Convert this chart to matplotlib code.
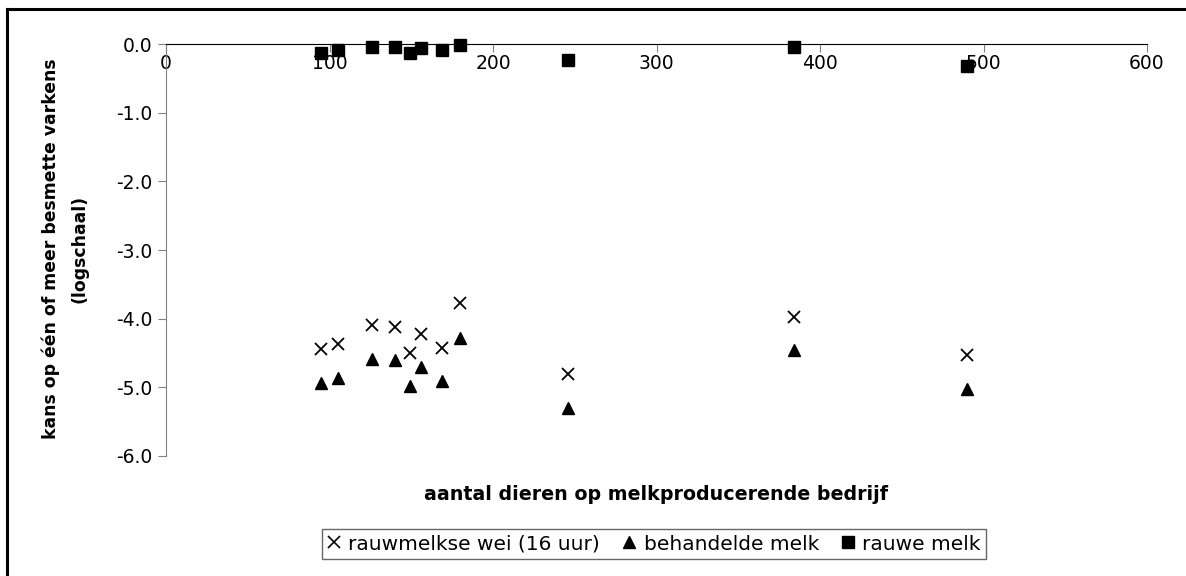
import matplotlib
matplotlib.use("Agg")
import matplotlib.pyplot as plt
from matplotlib.lines import Line2D

plt.rcParams['font.family'] = ['DejaVu Sans']
plt.rcParams['axes.unicode_minus'] = False

# aantal dieren per bedrijf
dieren = [95, 105, 126, 140, 149, 156, 169, 180, 246, 384, 490]
# log-kans per scenario
wei_16uur = [-4.45, -4.37, -4.09, -4.13, -4.50, -4.23, -4.43, -3.77, -4.81, -3.97, -4.53]
behandeld = [-4.94, -4.86, -4.59, -4.60, -4.98, -4.71, -4.91, -4.29, -5.31, -4.46, -5.03]
rauw = [-0.12, -0.09, -0.035, -0.035, -0.12, -0.06, -0.09, -0.015, -0.23, -0.04, -0.32]
yticks = [0, -1, -2, -3, -4, -5, -6]
labels = ['rauwmelkse wei (16 uur)', 'behandelde melk', 'rauwe melk']

W, H = 1186, 576
fig = plt.figure(figsize=(W / 100, H / 100), dpi=100)
ax = fig.add_axes([166 / W, 1 - 455.7 / H, (1147 - 166) / W, (455.7 - 44.3) / H])

ax.plot(dieren, wei_16uur, 'x', color='black', ms=9, mew=1.3, clip_on=False)
ax.plot(dieren, behandeld, '^', color='black', ms=9, clip_on=False)
ax.plot(dieren, rauw, 's', color='black', ms=9, clip_on=False)

ax.set_xlim(0, 600)
ax.set_ylim(-6, 0)
ax.set_xticks(range(0, 601, 100))
ax.set_yticks(yticks)
ax.set_yticklabels(['%.1f' % v for v in yticks])

ax.spines['top'].set_visible(False)
ax.spines['right'].set_visible(False)
ax.spines['bottom'].set_position(('data', 0))
ax.spines['bottom'].set_color('black')
ax.spines['left'].set_color('#808080')
ax.tick_params(axis='x', direction='out', length=6, color='#808080', labelsize=13.5, pad=1)
ax.tick_params(axis='y', direction='out', length=6, color='#808080', labelsize=13.5, pad=4)

fig.text(656 / W, 1 - 494 / H, 'aantal dieren op melkproducerende bedrijf',
         ha='center', va='center', fontsize=13.7, fontweight='bold')
fig.text(65 / W, 1 - 249 / H, 'kans op één of meer besmette varkens\n(logschaal)',
         ha='center', va='center', rotation=90, fontsize=12.4, fontweight='bold',
         linespacing=1.75)

handles = [
    Line2D([], [], ls='none', marker='x', color='black', ms=8, mew=1.2),
    Line2D([], [], ls='none', marker='^', color='black', ms=8),
    Line2D([], [], ls='none', marker='s', color='black', ms=8),
]
leg = fig.legend(handles, labels,
                 loc='center', bbox_to_anchor=(654 / W, 1 - 544 / H), ncol=3,
                 fontsize=14.5, frameon=True, fancybox=False, handlelength=0.7,
                 handletextpad=0.35, columnspacing=1.1, borderpad=0.25)
leg.get_frame().set_edgecolor('#404040')
leg.get_frame().set_linewidth(1.0)

# outer chart frame (only left and top visible)
fig.add_artist(Line2D([6.5 / W, 6.5 / W], [0, 1 - 8.5 / H], transform=fig.transFigure,
                      color='black', lw=2.2))
fig.add_artist(Line2D([6.5 / W, 1], [1 - 8.5 / H, 1 - 8.5 / H], transform=fig.transFigure,
                      color='black', lw=2.2))

fig.savefig('out.png', dpi=100)
